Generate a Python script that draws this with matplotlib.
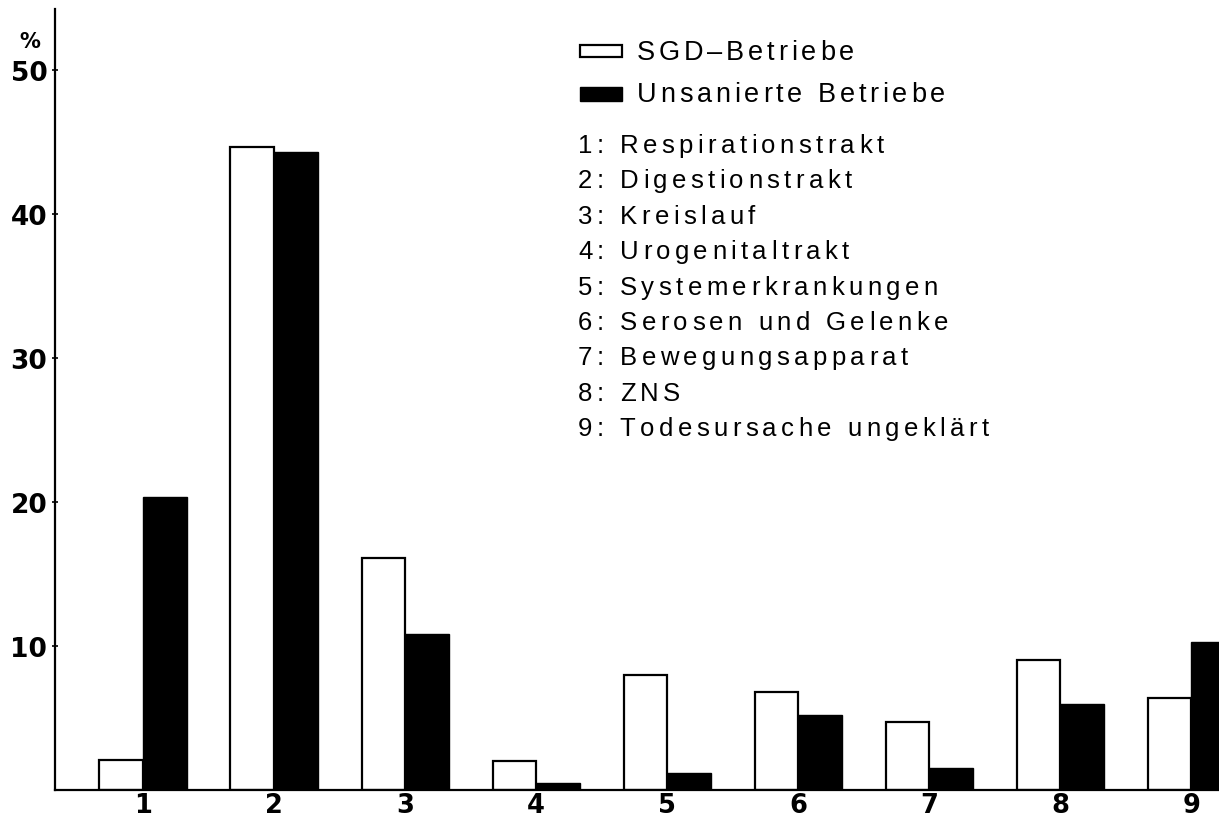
import matplotlib
matplotlib.use("Agg")
import matplotlib.pyplot as plt
from matplotlib.patches import Rectangle
from matplotlib.font_manager import FontProperties, findfont, get_font
import numpy as np

# Daten
categories = [1, 2, 3, 4, 5, 6, 7, 8, 9]
sgd_betriebe = [2.1, 44.6, 16.1, 2.0, 8.0, 6.8, 4.7, 9.0, 6.4]
unsanierte_betriebe = [20.3, 44.3, 10.8, 0.5, 1.2, 5.2, 1.5, 6.0, 10.3]
y_ticks = [10, 20, 30, 40, 50]
series_labels = ["SGD\u2013Betriebe", "Unsanierte Betriebe"]
category_names = [
    "Respirationstrakt",
    "Digestionstrakt",
    "Kreislauf",
    "Urogenitaltrakt",
    "Systemerkrankungen",
    "Serosen und Gelenke",
    "Bewegungsapparat",
    "ZNS",
    "Todesursache ungeklärt",
]

W, H = 1219, 820
DPI = 100
LEGEND_FONT = "Liberation Sans"
fig = plt.figure(figsize=(W / DPI, H / DPI), dpi=DPI)
ax = fig.add_axes([55 / W, (H - 791) / H, 1 - 55 / W, (791 - 10) / H])


def tracked_text(x_px, y_px, s, size, tracking_px, family=LEGEND_FONT):
    """Draw text letter by letter with extra spacing (the original is set wide)."""
    font = get_font(findfont(FontProperties(family=family)))
    font.set_size(size, DPI)
    x = x_px
    for ch in s:
        fig.text(x / W, 1 - y_px / H, ch, fontsize=size, family=family,
                 ha="left", va="center")
        adv = font.load_char(ord(ch)).linearHoriAdvance / 65536
        x += adv + tracking_px


x = np.array(categories)
width = 0.333
ax.bar(x - width / 2, sgd_betriebe, width, color="white", edgecolor="black",
       linewidth=1.6)
ax.bar(x + width / 2, unsanierte_betriebe, width, color="black",
       edgecolor="black", linewidth=1.0)

ax.set_xlim(0.328, 9.21)
ax.set_ylim(0, 54.2)

ax.spines["top"].set_visible(False)
ax.spines["right"].set_visible(False)
ax.spines["left"].set_linewidth(1.6)
ax.spines["bottom"].set_linewidth(1.6)

ax.set_yticks(y_ticks)
ax.set_yticklabels([str(t) for t in y_ticks], fontsize=19,
                   fontweight="bold", family="DejaVu Sans")
ax.tick_params(axis="y", direction="inout", length=5, width=1.2, pad=3)
ax.set_xticks(categories)
ax.set_xticklabels([str(c) for c in categories], fontsize=18.5,
                   fontweight="bold", family="DejaVu Sans")
ax.tick_params(axis="x", length=0, pad=1.5)

# Prozentzeichen über der Achse
fig.text(30 / W, 1 - 42 / H, "%", fontsize=15, fontweight="bold",
         ha="center", va="center")

# Legende
tf = fig.transFigure
fig.patches.append(Rectangle((580 / W, 1 - 58 / H), 42 / W, 12 / H,
                             facecolor="white", edgecolor="black",
                             linewidth=1.6, transform=tf))
fig.patches.append(Rectangle((580 / W, 1 - 102 / H), 42 / W, 14 / H,
                             facecolor="black", edgecolor="black",
                             linewidth=1.0, transform=tf))
tracked_text(637, 53, series_labels[0], 19.5, 3.8)
tracked_text(637, 95, series_labels[1], 19.5, 3.8)

y0, dy = 146, 35.4
for i, name in enumerate(category_names):
    tracked_text(578, y0 + i * dy, f"{categories[i]}: {name}", 18.5, 4.4)

fig.savefig("out.png", dpi=DPI)
